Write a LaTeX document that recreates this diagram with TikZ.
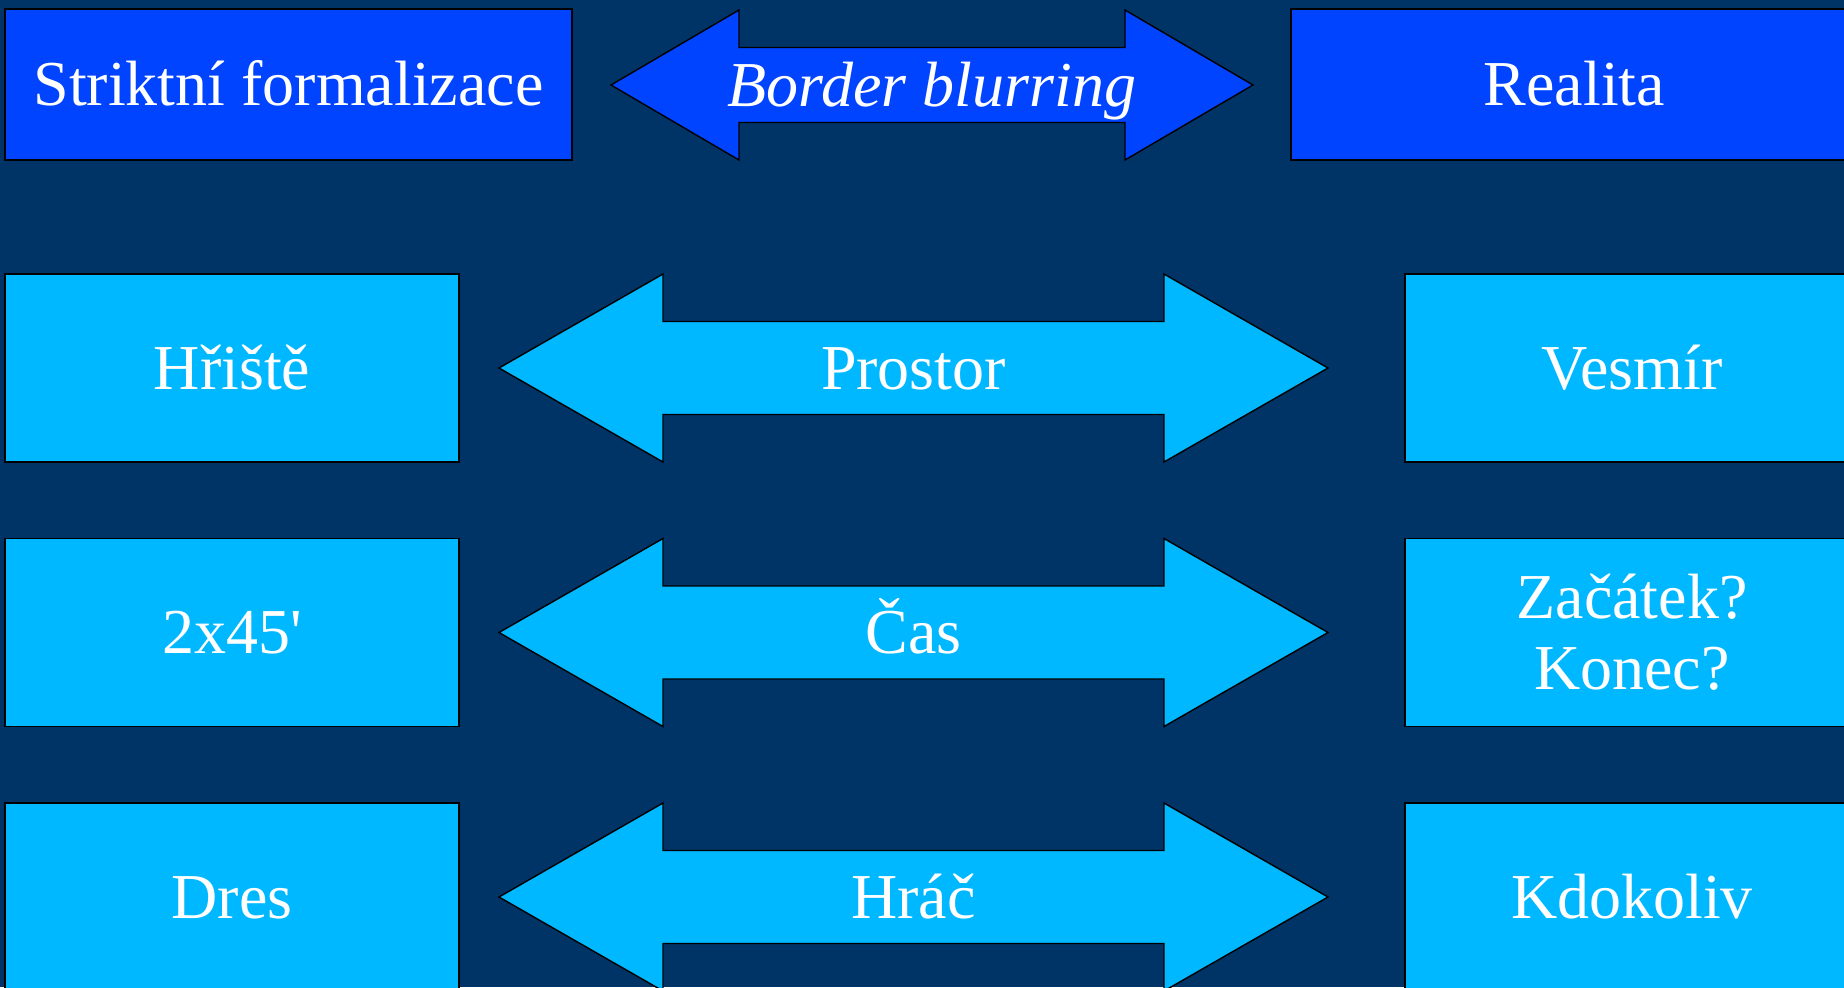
\documentclass[tikz,border=0pt]{standalone}
\usepackage{fontspec}
\setmainfont{Liberation Serif}
\usepackage{tikz}
\definecolor{slidenavy}{HTML}{003366}
\definecolor{slideblue}{HTML}{0044FF}
\definecolor{slidecyan}{HTML}{00B8FF}
\newcommand{\slidefont}{\fontsize{18.2pt}{20.2pt}\selectfont}
\tikzset{
  headbox/.style={rectangle, draw=black, fill=slideblue, minimum width=5.67cm, minimum height=1.51cm, inner sep=0pt, text=white, font=\slidefont, text height=12pt, text depth=0pt},
  rowbox/.style={rectangle, draw=black, fill=slidecyan, minimum width=4.54cm, minimum height=1.88cm, inner sep=0pt, text=white, font=\slidefont, text height=12pt, text depth=0pt},
  headarrow/.style={draw=black, fill=slideblue},
  rowarrow/.style={draw=black, fill=slidecyan},
  arrowtext/.style={inner sep=0pt, text=white, font=\slidefont, text height=12pt, text depth=0pt},
}

\begin{document}
\begin{tikzpicture}[x=0.01cm, y=-0.01cm]
  % background
  \fill[slidenavy] (0,0) rectangle (1844,987);
  \useasboundingbox (0,0) rectangle (1844,987);
  \clip (0,0) rectangle (1844,987);
  % header row
  \node[headbox] (strict) at (288.5,84.5) {Striktní formalizace};
  \node[headbox] (reality) at (1574.5,84.5) {Realita};
  \draw[headarrow] (611,85) -- (739,10) -- (739,47.5) -- (1125,47.5) -- (1125,10) -- (1253,85)
    -- (1125,160) -- (1125,122.5) -- (739,122.5) -- (739,160) -- cycle;
  \node[arrowtext, font=\slidefont\itshape] (blur) at (932,85) {Border blurring};
  % double arrows
  \foreach \y in {368,632.5,897}
    \draw[rowarrow] (499,\y) -- (663,\y-94) -- (663,\y-46.5) -- (1164,\y-46.5) -- (1164,\y-94) -- (1328,\y)
      -- (1164,\y+94) -- (1164,\y+46.5) -- (663,\y+46.5) -- (663,\y+94) -- cycle;
  % left column
  \node[rowbox] (pitch) at (232,368) {Hřiště};
  \node[rowbox] (halves) at (232,632.5) {2x45\textquotesingle};
  \node[rowbox] (jersey) at (232,897) {Dres};
  % arrow labels
  \node[arrowtext] (space) at (913.5,368) {Prostor};
  \node[arrowtext] (time) at (913.5,632.5) {Čas};
  \node[arrowtext] (player) at (913.5,897) {Hráč};
  % right column
  \node[rowbox] (universe) at (1632,368) {Vesmír};
  \node[rowbox, align=center, text height=32.2pt, text depth=0pt] (startend) at (1632,632.5) {Začátek?\\Konec?};
  \node[rowbox] (anyone) at (1632,897) {Kdokoliv};
\end{tikzpicture}
\end{document}
